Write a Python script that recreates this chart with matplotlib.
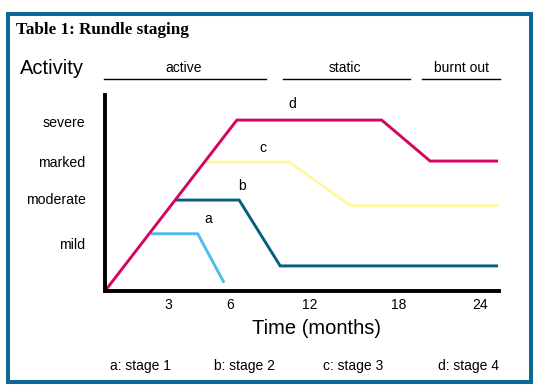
import numpy as np
import matplotlib
matplotlib.use('Agg')
import matplotlib.pyplot as plt
from matplotlib.patches import Rectangle
from matplotlib.lines import Line2D

# ---- data (months, severity score 0-100) ----
a_x = [2.20, 4.43, 5.69]
a_y = [29.2, 29.2, 4.2]
b_x = [3.35, 6.41, 9.62, 25.33]
b_y = [46.4, 46.4, 12.8, 12.8]
c_x = [4.83, 10.34, 14.7, 25.33]
c_y = [65.8, 65.8, 43.7, 43.7]
d_x = [0.0, 6.30, 16.83, 20.3, 25.33]
d_y = [0.0, 87.2, 87.2, 66.3, 66.3]

x_ticks = [3, 6, 12, 18, 24]
y_ticks = [86.4, 66.0, 47.3, 24.0]
y_labels = ['severe', 'marked', 'moderate', 'mild']
phases = ['active', 'static', 'burnt out']
legend_items = ['a: stage 1', 'b: stage 2', 'c: stage 3', 'd: stage 4']

col_a = '#4dbde9'
col_b = '#065f7f'
col_c = '#fff8a2'
col_d = '#d40560'
col_border = '#0b6a94'

plt.rcParams['font.family'] = ['Liberation Sans', 'DejaVu Sans']

W, H = 536, 391
fig = plt.figure(figsize=(W / 100, H / 100), dpi=100)


def fx(x):
    return x / W


def fy(y):
    return 1 - y / H


# outer frame
fig.patches.append(Rectangle((fx(8), fy(382)), fx(531) - fx(8), fy(14) - fy(382),
                             transform=fig.transFigure, fill=False,
                             edgecolor=col_border, linewidth=2.9))

fig.text(fx(16), fy(30), 'Table 1: Rundle staging', family='Liberation Serif',
         weight='bold', fontsize=12.3, ha='left', va='center')
fig.text(fx(20), fy(68), 'Activity', fontsize=14.5, ha='left', va='center')

# phase headers
ph_centers = [184, 345, 461]
ph_lines = [(104, 266), (283, 410), (422, 500)]
for name, cx, (x0, x1) in zip(phases, ph_centers, ph_lines):
    fig.text(fx(cx), fy(68), name, fontsize=10, ha='center', va='center')
    fig.add_artist(Line2D([fx(x0), fx(x1)], [fy(79), fy(79)],
                          transform=fig.transFigure, color='black', lw=1.0))

ax = fig.add_axes([fx(105), fy(291), fx(499) - fx(105), fy(95) - fy(291)])

# schematic (non-proportional) time axis
anch_m = [-100, 0, 6.5, 12, 18, 24, 30, 200]
anch_u = [-2092, 0, 136, 205, 294, 375, 456, 2751]


def fwd(x):
    return np.interp(x, anch_m, anch_u)


def inv(u):
    return np.interp(u, anch_u, anch_m)


ax.set_xscale('function', functions=(fwd, inv))
ax.set_xlim(0, 25.4)
ax.set_ylim(0, 100)

lw = 2.1
ax.plot(c_x, c_y, color=col_c, lw=lw, solid_capstyle='butt', solid_joinstyle='miter')
ax.plot(b_x, b_y, color=col_b, lw=lw, solid_capstyle='butt', solid_joinstyle='miter')
ax.plot(a_x, a_y, color=col_a, lw=lw, solid_capstyle='butt', solid_joinstyle='miter')
ax.plot(d_x, d_y, color=col_d, lw=lw, solid_capstyle='butt', solid_joinstyle='miter')

for t, x, y in [('d', 10.58, 95.4), ('c', 8.26, 73.0), ('b', 6.58, 53.4), ('a', 4.92, 36.5)]:
    ax.text(x, y, t, fontsize=10, ha='center', va='center')

for s in ['top', 'right']:
    ax.spines[s].set_visible(False)
for s in ['left', 'bottom']:
    ax.spines[s].set_linewidth(2.8)
    ax.spines[s].set_color('black')

ax.set_xticks(x_ticks)
ax.set_xticklabels([str(v) for v in x_ticks])
ax.xaxis.set_minor_locator(matplotlib.ticker.NullLocator())
ax.set_yticks(y_ticks)
ax.set_yticklabels(y_labels)
ax.tick_params(axis='x', length=0, pad=5, labelsize=10)
ax.tick_params(axis='y', length=0, pad=14, labelsize=10.2)
ax.patch.set_alpha(0)

fig.text(fx(316), fy(329), 'Time (months)', fontsize=14.5, ha='center', va='center')

for name, cx in zip(legend_items, [140, 244, 353, 469]):
    fig.text(fx(cx), fy(366), name, fontsize=10, ha='center', va='center')

fig.savefig('out.png', dpi=100)
